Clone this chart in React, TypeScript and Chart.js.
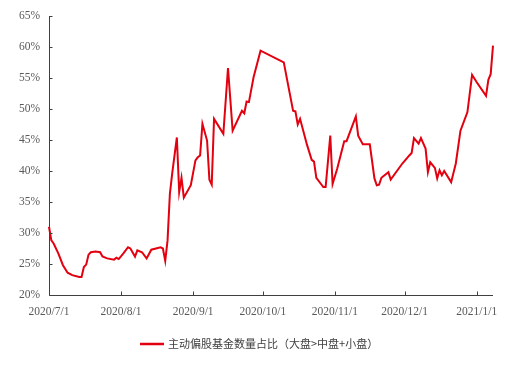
import React, { useEffect, useRef } from "react";
import { Chart, registerables } from "chart.js";

Chart.register(...registerables);

// days since 2020/7/1
const dayOffsets = [
  0, 1, 2, 4, 6, 8, 10, 13, 14, 15, 16, 17, 18, 20, 22, 23, 25, 28, 29, 30,
  32, 34, 35, 37, 38, 40, 42, 44, 48, 49, 50, 51, 52, 53, 55, 56, 57, 58, 61, 63,
  64, 65, 66, 68, 69, 70, 71, 75, 77, 79, 83, 84, 85, 86, 88, 91, 101, 103, 105, 106,
  107, 108, 111, 113, 114, 115, 117, 118, 119, 121, 122, 124, 127, 128, 132, 133, 135, 138, 140, 141,
  142, 143, 146, 147, 152, 155, 156, 157, 159, 160, 162, 163, 164, 166, 167, 168, 169, 170, 173, 175,
  177, 180, 182, 184, 188, 189, 190, 191,
];

// 主动偏股基金数量占比（%）
const shareValues = [
  31.0, 28.8, 28.3, 26.7, 24.8, 23.6, 23.2, 22.9, 22.9, 24.5, 24.9, 26.5, 26.9, 27.0, 26.9, 26.2, 25.9, 25.7, 26.0, 25.8,
  26.7, 27.7, 27.5, 26.2, 27.2, 26.9, 25.9, 27.3, 27.7, 27.5, 25.5, 28.8, 36.3, 39.6, 45.4, 36.6, 38.9, 35.7, 37.7, 41.7,
  42.2, 42.5, 47.6, 44.9, 38.6, 37.8, 48.4, 46.0, 56.6, 46.5, 49.7, 49.3, 51.2, 51.1, 55.1, 59.4, 57.5, 53.6, 49.7, 49.6,
  47.5, 48.4, 44.2, 41.8, 41.5, 38.9, 37.9, 37.4, 37.4, 45.7, 37.9, 40.4, 44.8, 44.8, 48.8, 45.7, 44.3, 44.3, 38.8, 37.7,
  37.8, 38.9, 39.8, 38.6, 41.2, 42.5, 42.9, 45.3, 44.4, 45.3, 43.6, 39.8, 41.4, 40.5, 38.8, 40.1, 39.3, 40.0, 38.2, 41.2,
  46.5, 49.5, 55.5, 54.3, 52.1, 54.7, 55.6, 60.2,
];

const xTickDays = [0, 31, 62, 92, 123, 153, 184];
const xTickLabels = ["2020/7/1", "2020/8/1", "2020/9/1", "2020/10/1", "2020/11/1", "2020/12/1", "2021/1/1"];
const yTickValues = [20, 25, 30, 35, 40, 45, 50, 55, 60, 65];

const seriesLabel = "主动偏股基金数量占比（大盘>中盘+小盘）";
const lineColor = "#E3000F";
const axisColor = "#404040";
const textColor = "#595959";

const customDraw = {
  id: "customDraw",
  afterDraw(chart: any) {
    const ctx = chart.ctx;
    const { left, right, top, bottom } = chart.chartArea;
    const xs = chart.scales.x;
    const ys = chart.scales.y;
    ctx.save();
    ctx.strokeStyle = axisColor;
    ctx.lineWidth = 1;
    const bx = Math.round(left) + 0.5;
    const by = Math.round(bottom) + 0.5;
    ctx.beginPath();
    ctx.moveTo(bx, Math.round(top));
    ctx.lineTo(bx, by);
    ctx.lineTo(Math.round(right), by);
    ctx.stroke();
    xTickDays.forEach((d) => {
      const px = Math.round(xs.getPixelForValue(d)) + 0.5;
      ctx.beginPath();
      ctx.moveTo(px, by);
      ctx.lineTo(px, by - 4);
      ctx.stroke();
    });
    yTickValues.forEach((v) => {
      const py = Math.round(ys.getPixelForValue(v)) + 0.5;
      ctx.beginPath();
      ctx.moveTo(bx, py);
      ctx.lineTo(bx + 3, py);
      ctx.stroke();
    });
    const ly = 344;
    ctx.strokeStyle = lineColor;
    ctx.lineWidth = 2.5;
    ctx.beginPath();
    ctx.moveTo(140, ly);
    ctx.lineTo(164, ly);
    ctx.stroke();
    ctx.fillStyle = axisColor;
    ctx.font = "11px 'Noto Sans CJK SC'";
    ctx.textBaseline = "middle";
    ctx.textAlign = "left";
    ctx.fillText(seriesLabel, 168, ly);
    ctx.restore();
  },
};

export default function App() {
  const ref = useRef<HTMLCanvasElement | null>(null);
  useEffect(() => {
    document.body.style.margin = "0";
    const points = dayOffsets.map((d, i) => ({ x: d, y: shareValues[i] }));
    const chart = new Chart(ref.current as HTMLCanvasElement, {
      type: "line",
      data: {
        datasets: [
          {
            label: seriesLabel,
            data: points,
            borderColor: lineColor,
            backgroundColor: lineColor,
            borderWidth: 2,
            pointRadius: 0,
            tension: 0,
            clip: 4,
          },
        ],
      },
      options: {
        animation: false,
        responsive: false,
        maintainAspectRatio: false,
        layout: { padding: { top: 15, right: 29, left: 0, bottom: 0 } },
        plugins: { legend: { display: false }, tooltip: { enabled: false } },
        scales: {
          x: {
            type: "linear",
            min: 0,
            max: 191,
            afterBuildTicks: (scale: any) => {
              scale.ticks = xTickDays.map((v) => ({ value: v }));
            },
            afterFit: (scale: any) => {
              scale.height = 73;
            },
            grid: { display: false, drawTicks: false },
            border: { display: false },
            ticks: {
              autoSkip: false,
              maxRotation: 0,
              padding: 10,
              color: textColor,
              font: { family: "'Liberation Serif'", size: 11.5 },
              callback: (v: any) => {
                const i = xTickDays.indexOf(Number(v));
                return i >= 0 ? xTickLabels[i] : "";
              },
            },
          },
          y: {
            min: 20,
            max: 65,
            afterBuildTicks: (scale: any) => {
              scale.ticks = yTickValues.map((v) => ({ value: v }));
            },
            afterFit: (scale: any) => {
              scale.width = 49;
            },
            grid: { display: false, drawTicks: false },
            border: { display: false },
            ticks: {
              padding: 9,
              color: textColor,
              font: { family: "'Liberation Serif'", size: 11.5 },
              callback: (v: any) => v + "%",
            },
          },
        },
      },
      plugins: [customDraw],
    });
    return () => chart.destroy();
  }, []);
  return <canvas ref={ref} width={522} height={368} style={{ display: "block" }} />;
}
